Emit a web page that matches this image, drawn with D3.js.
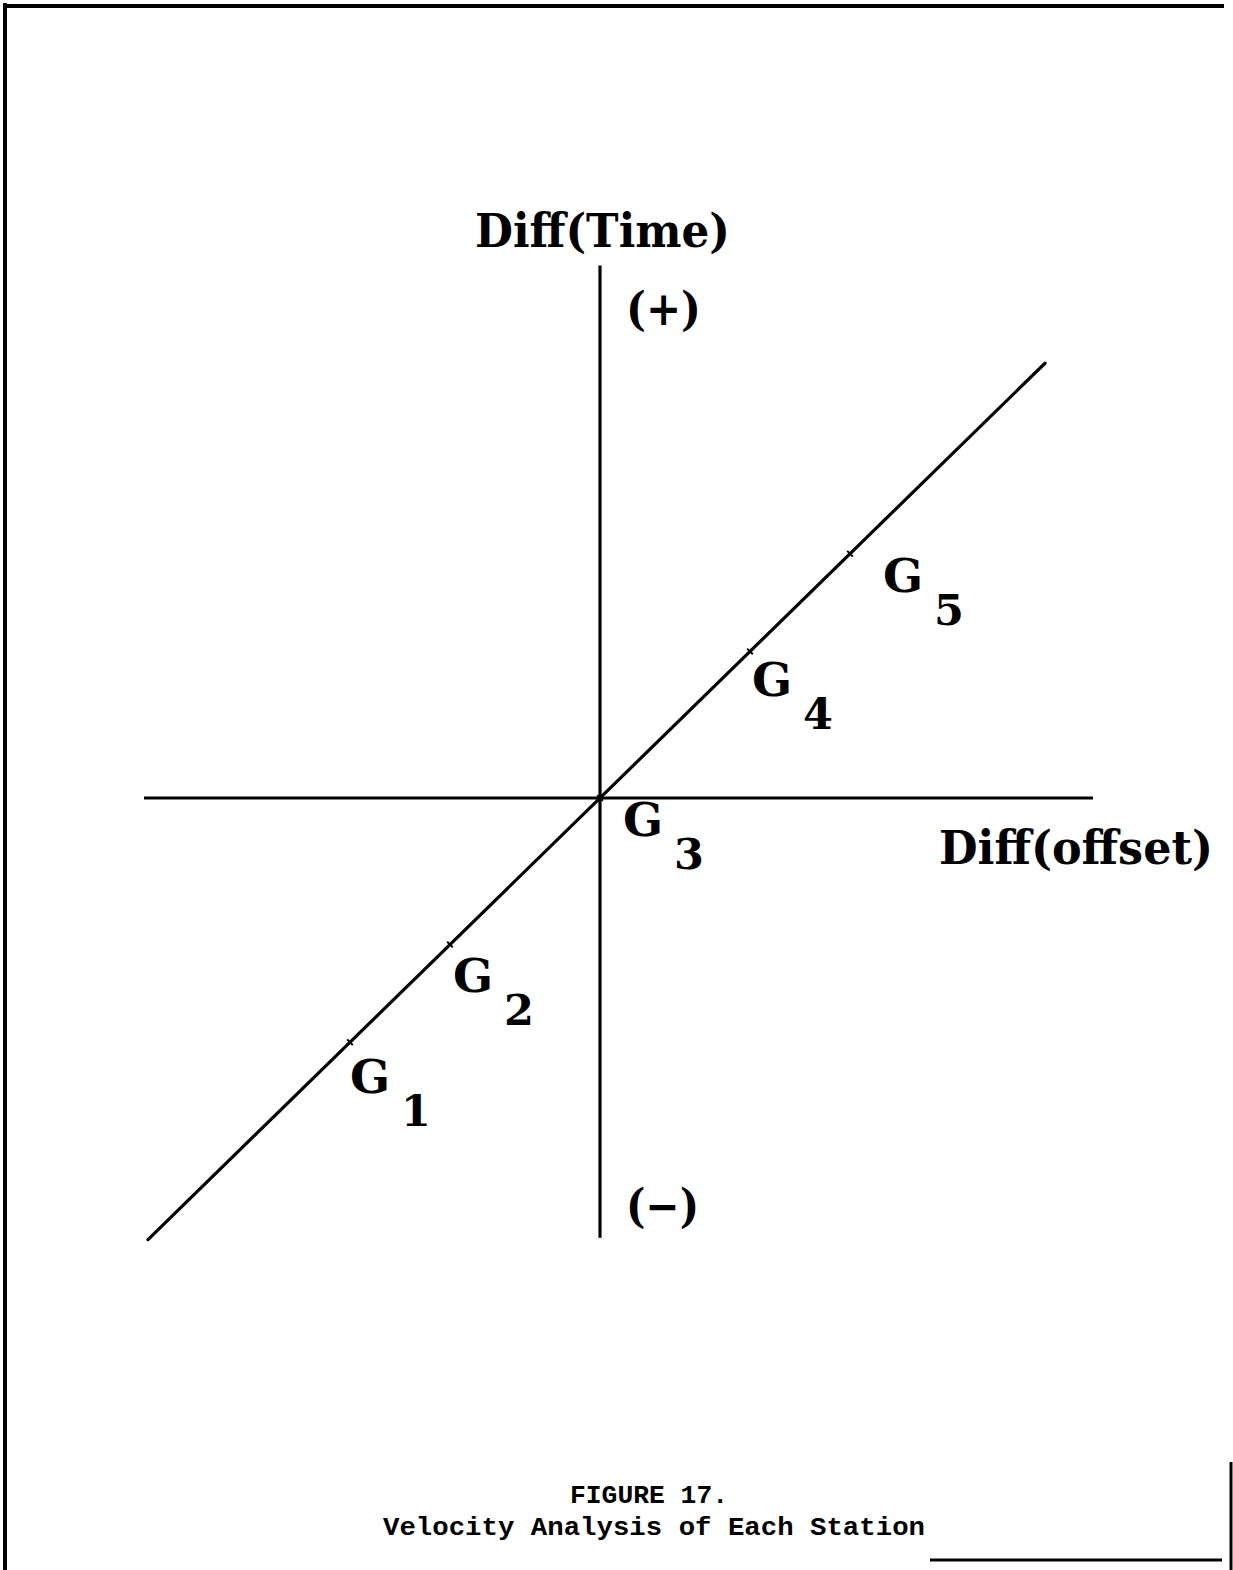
<!DOCTYPE html>
<html>
<head>
<meta charset="utf-8">
<script src="https://cdn.jsdelivr.net/npm/d3@7"></script>
<style>
  html, body { margin: 0; padding: 0; background: #fff; }
  svg { display: block; }
</style>
</head>
<body>
<script>
// ---- data ----
const stations = ["G1", "G2", "G3", "G4", "G5"];
const stationOffsets = [-2.5, -1.5, 0, 1.5, 2.5];   // Diff(offset) of each station
const lineExtent = [-4.52, 4.45];                     // fitted line, Diff(time) = Diff(offset)
const xAxisExtent = [-4.56, 4.93];
const yAxisExtent = [-4.5, 5.45];
const axisTitles = { x: "Diff(offset)", y: "Diff(Time)" };
const signLabels = ["(+)", "(−)"];
const captionLines = ["FIGURE 17.", "Velocity Analysis of Each Station"];

// ---- layout ----
const W = 1233, H = 1570;
const svg = d3.select("body").append("svg").attr("width", W).attr("height", H);

const x = d3.scaleLinear().domain([0, 1]).range([600, 700]);
const y = d3.scaleLinear().domain([0, 1]).range([798, 700.3]);

const ink = "#000";
const serif = "'DejaVu Serif', 'Liberation Serif', serif";

// page frame (scanned border)
const frame = svg.append("g").attr("stroke", ink).attr("fill", "none");
frame.append("line").attr("x1", 3).attr("y1", 6).attr("x2", 1224).attr("y2", 6).attr("stroke-width", 4);
frame.append("line").attr("x1", 5).attr("y1", 3).attr("x2", 5).attr("y2", 1570).attr("stroke-width", 4);
frame.append("line").attr("x1", 1231).attr("y1", 1462).attr("x2", 1231).attr("y2", 1570).attr("stroke-width", 3);
frame.append("line").attr("x1", 930).attr("y1", 1560).attr("x2", 1222).attr("y2", 1560).attr("stroke-width", 3);

// axes
const axes = svg.append("g").attr("stroke", ink).attr("stroke-width", 3.2);
axes.append("line")
  .attr("x1", x(xAxisExtent[0])).attr("x2", x(xAxisExtent[1]))
  .attr("y1", y(0)).attr("y2", y(0));
axes.append("line")
  .attr("x1", x(0)).attr("x2", x(0))
  .attr("y1", y(yAxisExtent[1])).attr("y2", y(yAxisExtent[0]));

// fitted line
svg.append("line")
  .attr("x1", x(lineExtent[0])).attr("y1", y(lineExtent[0]))
  .attr("x2", x(lineExtent[1])).attr("y2", y(lineExtent[1]))
  .attr("stroke", ink).attr("stroke-width", 3.2).attr("stroke-linecap", "round");

// station ticks on the line
const ang = Math.atan2(y(1) - y(0), x(1) - x(0));
const nx = -Math.sin(ang), ny = Math.cos(ang);
svg.append("g").selectAll("line").data(stationOffsets).join("line")
  .attr("x1", d => x(d) - nx * 4).attr("y1", d => y(d) - ny * 4)
  .attr("x2", d => x(d) + nx * 4).attr("y2", d => y(d) + ny * 4)
  .attr("stroke", ink).attr("stroke-width", 2);

// station labels
const labelNudge = [[0, 51], [3, 47], [23, 38], [2, 45], [33, 38]];
const lab = svg.append("g").attr("font-family", serif).attr("font-weight", "bold").attr("fill", ink);
stations.forEach((s, i) => {
  const px = x(stationOffsets[i]) + labelNudge[i][0];
  const py = y(stationOffsets[i]) + labelNudge[i][1];
  lab.append("text").attr("x", px).attr("y", py).attr("font-size", 47).text(s[0]);
  lab.append("text").attr("x", px + 51).attr("y", py + 33).attr("font-size", 43).text(s.slice(1));
});

// axis titles and sign labels
const t = svg.append("g").attr("font-family", serif).attr("font-weight", "bold").attr("fill", ink);
t.append("text").attr("x", 475).attr("y", 247).attr("font-size", 46)
  .attr("textLength", 255).attr("lengthAdjust", "spacingAndGlyphs").text(axisTitles.y);
t.append("text").attr("x", 939).attr("y", 864).attr("font-size", 46)
  .attr("textLength", 274).attr("lengthAdjust", "spacingAndGlyphs").text(axisTitles.x);
t.append("text").attr("x", 626).attr("y", 325).attr("font-size", 46)
  .attr("textLength", 75).attr("lengthAdjust", "spacingAndGlyphs").text(signLabels[0]);
t.append("text").attr("x", 626).attr("y", 1222).attr("font-size", 46)
  .attr("textLength", 73).attr("lengthAdjust", "spacingAndGlyphs").text(signLabels[1]);

// caption
const cap = svg.append("g").attr("font-family", "'Liberation Mono', 'Courier New', monospace")
  .attr("font-weight", "bold").attr("fill", ink).attr("font-size", 26);
cap.append("text").attr("x", 570).attr("y", 1503)
  .attr("textLength", 158).attr("lengthAdjust", "spacingAndGlyphs").text(captionLines[0]);
cap.append("text").attr("x", 383).attr("y", 1535)
  .attr("textLength", 542).attr("lengthAdjust", "spacingAndGlyphs").text(captionLines[1]);
</script>
</body>
</html>
